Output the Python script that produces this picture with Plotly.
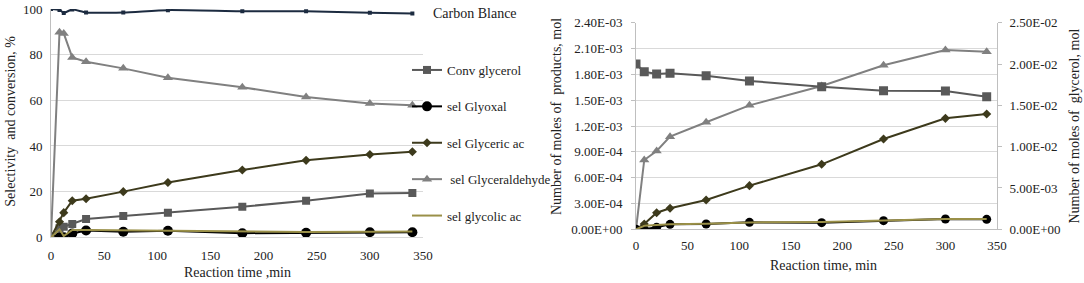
import numpy as np
import plotly.graph_objects as go

# ---------------- data ----------------
t_left = [0, 8, 12, 20, 33, 68, 110, 180, 240, 300, 340]
carbon_balance = [100, 99.6, 98.3, 99.8, 98.5, 98.5, 99.5, 99.0, 99.0, 98.4, 98.0]
conv_glycerol = [0, 4.0, 4.6, 5.8, 8.0, 9.3, 10.8, 13.4, 16.0, 19.2, 19.4]
sel_glyoxal = [0, 0, 0, 1.7, 3.0, 2.4, 2.9, 1.8, 2.0, 2.2, 2.2]
sel_glyceric = [0, 6.8, 10.8, 16.0, 16.9, 20.0, 24.0, 29.5, 33.7, 36.3, 37.5]
sel_glyceraldehyde = [0, 89.8, 89.3, 78.8, 76.9, 74.0, 69.9, 65.7, 61.5, 58.6, 57.8]
sel_glycolic = [0, 3.5, 0.5, 3.2, 3.2, 3.0, 3.0, 2.5, 2.3, 2.4, 2.5]

t_right = [0, 8, 20, 33, 68, 110, 180, 240, 300, 340]
mol_glycerol = [2.00e-2, 1.907e-2, 1.879e-2, 1.888e-2, 1.859e-2, 1.795e-2, 1.726e-2, 1.677e-2, 1.673e-2, 1.605e-2]
mol_glyceraldehyde = [0, 8.05e-4, 9.09e-4, 1.076e-3, 1.243e-3, 1.44e-3, 1.664e-3, 1.905e-3, 2.082e-3, 2.063e-3]
mol_glyceric = [0, 6.2e-5, 1.93e-4, 2.44e-4, 3.40e-4, 5.07e-4, 7.55e-4, 1.049e-3, 1.289e-3, 1.339e-3]
mol_glyoxal = [0, 0, 2.3e-5, 5.8e-5, 6.2e-5, 8.1e-5, 7.7e-5, 1.0e-4, 1.2e-4, 1.16e-4]
mol_glycolic = [0, 4.0e-5, 5.0e-5, 6.0e-5, 6.5e-5, 8.0e-5, 8.5e-5, 1.0e-4, 1.2e-4, 1.2e-4]

left_yticks = [0, 20, 40, 60, 80, 100]
right_yticks = list(np.round(np.arange(0, 0.0024 + 1e-9, 0.0003), 6))
right_y2ticks = list(np.round(np.arange(0, 0.025 + 1e-9, 0.005), 6))
xticks = [0, 50, 100, 150, 200, 250, 300, 350]

# ---------------- style ----------------
FONT = "Liberation Serif, DejaVu Serif, serif"
C_CONV = "#595959"
C_GLYOXAL = "#000000"
C_GLYCERIC = "#3d3a1c"
C_GALD = "#808080"
C_GLYCOLIC = "#9a9048"
C_CB = "#1c2b40"
GRID = "#d9d9d9"
AXL = "#bfbfbf"
TXT = "#222222"

W, H = 1084, 283
def px(x):
    return x / W
def py(y):
    return 1 - y / H

fig = go.Figure()

# ---- left chart ----
fig.add_trace(go.Scatter(x=t_left, y=conv_glycerol, name="Conv glycerol", legendgroup="a",
                         mode="lines+markers", line=dict(color=C_CONV, width=2),
                         marker=dict(symbol="square", size=8, color=C_CONV), xaxis="x", yaxis="y"))
fig.add_trace(go.Scatter(x=t_left, y=sel_glyoxal, name="sel Glyoxal", legendgroup="b",
                         mode="lines+markers", line=dict(color=C_GLYOXAL, width=2),
                         marker=dict(symbol="circle", size=10, color=C_GLYOXAL), xaxis="x", yaxis="y"))
fig.add_trace(go.Scatter(x=t_left, y=sel_glyceric, name="sel Glyceric ac", legendgroup="c",
                         mode="lines+markers", line=dict(color=C_GLYCERIC, width=2),
                         marker=dict(symbol="diamond", size=7, color=C_GLYCERIC), xaxis="x", yaxis="y"))
fig.add_trace(go.Scatter(x=t_left, y=sel_glyceraldehyde, name=" sel Glyceraldehyde", legendgroup="d",
                         mode="lines+markers", line=dict(color=C_GALD, width=2),
                         marker=dict(symbol="triangle-up", size=9, color=C_GALD), xaxis="x", yaxis="y"))
fig.add_trace(go.Scatter(x=t_left, y=sel_glycolic, name="sel glycolic ac", legendgroup="e",
                         mode="lines", line=dict(color=C_GLYCOLIC, width=2),
                         xaxis="x", yaxis="y"))
fig.add_trace(go.Scatter(x=t_left, y=carbon_balance, name="Carbon Blance", showlegend=False,
                         mode="lines+markers", line=dict(color=C_CB, width=2, shape="spline", smoothing=0.6),
                         marker=dict(symbol="square", size=4, color=C_CB), xaxis="x", yaxis="y"))

# ---- right chart ----
fig.add_trace(go.Scatter(x=t_right, y=mol_glyceraldehyde, showlegend=False,
                         mode="lines+markers", line=dict(color=C_GALD, width=2),
                         marker=dict(symbol="triangle-up", size=9, color=C_GALD), xaxis="x2", yaxis="y2"))
fig.add_trace(go.Scatter(x=t_right, y=mol_glyceric, showlegend=False,
                         mode="lines+markers", line=dict(color=C_GLYCERIC, width=2),
                         marker=dict(symbol="diamond", size=7, color=C_GLYCERIC), xaxis="x2", yaxis="y2"))
fig.add_trace(go.Scatter(x=t_right, y=mol_glyoxal, showlegend=False,
                         mode="lines+markers", line=dict(color=C_GLYOXAL, width=2),
                         marker=dict(symbol="circle", size=9, color=C_GLYOXAL), xaxis="x2", yaxis="y2"))
fig.add_trace(go.Scatter(x=t_right, y=mol_glycolic, showlegend=False,
                         mode="lines", line=dict(color=C_GLYCOLIC, width=2),
                         xaxis="x2", yaxis="y2"))
fig.add_trace(go.Scatter(x=t_right, y=mol_glycerol, showlegend=False,
                         mode="lines+markers", line=dict(color=C_CONV, width=2),
                         marker=dict(symbol="square", size=9, color=C_CONV), xaxis="x2", yaxis="y3"))

tickfont = dict(family=FONT, size=13, color=TXT)

fig.update_layout(
    width=W, height=H,
    margin=dict(l=0, r=0, t=0, b=0, autoexpand=False),
    paper_bgcolor="white", plot_bgcolor="white",
    font=dict(family=FONT, size=13, color=TXT),
    xaxis=dict(domain=[px(51), px(423)], range=[0, 350], tickvals=xticks, anchor="y",
               showgrid=False, zeroline=False, showline=True, linecolor=GRID, linewidth=1,
               ticks="", tickfont=tickfont, ticklabelstandoff=6, automargin=False),
    yaxis=dict(domain=[py(237.3), py(9)], range=[0, 100], tickvals=left_yticks, anchor="x",
               showgrid=True, gridcolor=GRID, zeroline=False, showline=True, linecolor=AXL,
               ticks="", tickfont=tickfont, ticklabelstandoff=5, automargin=False),
    xaxis2=dict(domain=[px(636), px(997)], range=[0, 350], tickvals=xticks, anchor="y2",
                showgrid=False, zeroline=False, showline=True, linecolor=AXL,
                ticks="", tickfont=tickfont, ticklabelstandoff=4, automargin=False),
    yaxis2=dict(domain=[py(229.3), py(22.7)], range=[0, 0.0024], tickvals=right_yticks,
                ticktext=[f"{v:.2E}" for v in right_yticks], anchor="x2",
                showgrid=True, gridcolor=GRID, zeroline=False, showline=True, linecolor=AXL,
                ticks="outside", ticklen=4, tickcolor=AXL, tickfont=tickfont, ticklabelstandoff=6,
                automargin=False),
    yaxis3=dict(range=[0, 0.025], tickvals=right_y2ticks,
                ticktext=[f"{v:.2E}" for v in right_y2ticks], overlaying="y2", side="right",
                anchor="x2", showgrid=False, zeroline=False, showline=True, linecolor=AXL,
                ticks="outside", ticklen=4, tickcolor=AXL, tickfont=tickfont, ticklabelstandoff=5,
                automargin=False),
    showlegend=True,
    legend=dict(x=px(407), y=py(55), xanchor="left", yanchor="top",
                font=dict(family=FONT, size=13, color=TXT),
                tracegroupgap=16.5, bgcolor="rgba(0,0,0,0)", itemwidth=30),
)

ann = [
    dict(text="Carbon Blance", x=px(431), y=py(13.3), xanchor="left", yanchor="middle"),
    dict(text="Reaction time ,min", x=px(237), y=py(272.7), xanchor="center", yanchor="middle"),
    dict(text="Reaction time, min", x=px(823), y=py(265), xanchor="center", yanchor="middle"),
    dict(text="Selectivity  and conversion, %", x=px(11), y=py(121.7), xanchor="center",
         yanchor="middle", textangle=-90),
    dict(text="Number of moles of  products, mol", x=px(556), y=py(117), xanchor="center",
         yanchor="middle", textangle=-90),
    dict(text="Number of moles of  glycerol, mol", x=px(1073.5), y=py(126), xanchor="center",
         yanchor="middle", textangle=-90),
]
for a in ann:
    fig.add_annotation(xref="paper", yref="paper", showarrow=False,
                       font=dict(family=FONT, size=14, color=TXT), **a)

fig.write_html("out.html", config={"displayModeBar": False},
               post_script="document.body.style.margin='0px';document.body.style.overflow='hidden';")
